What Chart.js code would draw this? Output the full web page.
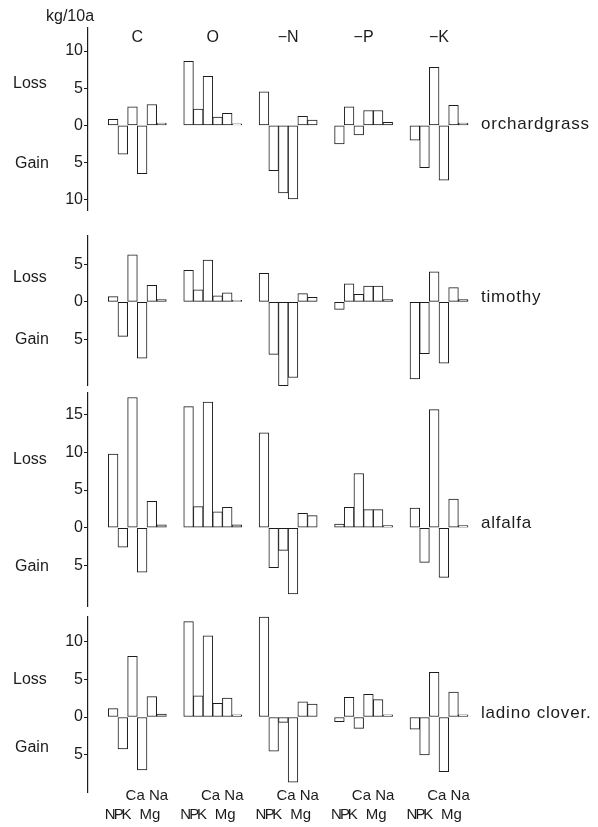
<!DOCTYPE html>
<html>
<head>
<meta charset="utf-8">
<script src="https://cdn.jsdelivr.net/npm/chart.js@4.4.1/dist/chart.umd.min.js"></script>
<style>
  html, body { margin: 0; padding: 0; background: #fff; }
  #wrap { position: relative; width: 598px; height: 827px; }
  #wrap canvas { position: absolute; left: 0; top: 0; }
</style>
</head>
<body>
<div id="wrap">
  <canvas id="c0" width="598" height="827"></canvas>
  <canvas id="c1" width="598" height="827"></canvas>
  <canvas id="c2" width="598" height="827"></canvas>
  <canvas id="c3" width="598" height="827"></canvas>
</div>
<script>
// kg/10a, loss is positive, gain negative; one row per treatment, columns follow `elements`
const elements = ['N', 'P', 'K', 'Ca', 'Mg', 'Na'];
const treatments = ['C', 'O', '\u2212N', '\u2212P', '\u2212K'];

const orchardgrass = [
  [0.8, -3.9, 2.5, -6.5, 2.8, 0.3],
  [8.6, 2.2, 6.6, 1.1, 1.6, 0.2],
  [4.5, -6.1, -9.1, -9.9, 1.2, 0.7],
  [-2.5, 2.5, -1.3, 2.0, 2.0, 0.4],
  [-2.0, -5.7, 7.8, -7.4, 2.7, 0.3]
];
const timothy = [
  [0.7, -4.6, 6.3, -7.5, 2.2, 0.3],
  [4.2, 1.6, 5.6, 0.8, 1.2, 0.2],
  [3.8, -7.0, -11.2, -10.1, 1.1, 0.6],
  [-1.0, 2.4, 1.0, 2.1, 2.1, 0.3],
  [-10.3, -6.9, 4.0, -8.2, 1.9, 0.3]
];
const alfalfa = [
  [9.8, -2.6, 17.3, -5.9, 3.5, 0.4],
  [16.1, 2.8, 16.7, 2.1, 2.7, 0.4],
  [12.6, -5.3, -3.0, -8.8, 1.9, 1.6],
  [0.5, 2.7, 7.2, 2.4, 2.4, 0.3],
  [2.6, -4.6, 15.7, -6.6, 3.8, 0.3]
];
const ladinoClover = [
  [1.1, -4.2, 8.0, -7.0, 2.7, 0.4],
  [12.6, 2.8, 10.7, 1.8, 2.5, 0.3],
  [13.2, -4.5, -0.7, -8.6, 2.0, 1.7],
  [-0.6, 2.6, -1.5, 3.0, 2.3, 0.3],
  [-1.6, -5.0, 5.9, -7.2, 3.3, 0.3]
];

const orchardTicks = [10, 5, 0, -5, -10];
const timothyTicks = [5, 0, -5];
const alfalfaTicks = [15, 10, 5, 0, -5];
const ladinoTicks = [10, 5, 0, -5];

// layout of the four stacked panels (pixels of the y axis line, value range, text spots)
const panels = [
  { name: 'orchardgrass', values: orchardgrass, ticks: orchardTicks, top: 28, bottom: 210, min: -11.4, max: 13.1, lossAt: 5.6, gainAt: -5.1, nameDy: 4 },
  { name: 'timothy', values: timothy, ticks: timothyTicks, top: 236, bottom: 385, min: -11.1, max: 8.8, lossAt: 3.3, gainAt: -5.0, nameDy: 0 },
  { name: 'alfalfa', values: alfalfa, ticks: alfalfaTicks, top: 393, bottom: 606, min: -10.4, max: 17.9, lossAt: 9.0, gainAt: -5.2, nameDy: 0 },
  { name: 'ladino clover.', values: ladinoClover, ticks: ladinoTicks, top: 617, bottom: 792, min: -9.9, max: 13.2, lossAt: 4.9, gainAt: -4.0, nameDy: 1 }
];

const GROUP_PITCH = 7.8;
const AXIS_X = 88;
const AREA_RIGHT = 469;
const INK = '#1c1c1c';
const FONT = '"Liberation Sans", Arial, sans-serif';
const NARROW = '"Liberation Sans Narrow", "Liberation Sans", sans-serif';
// element labels under the bottom panel sit a little left of their bars, Ca and Na on the upper line
const labelDx = [-3, -4, -6, -7, -2, -3];
const upperLine = ['Ca', 'Na'];

const panelText = {
  id: 'panelText',
  afterDraw(chart, args, opts) {
    const p = panels[opts.index];
    const { ctx, chartArea, scales } = chart;
    const zero = scales.y.getPixelForValue(0);
    ctx.save();
    ctx.fillStyle = INK;
    ctx.font = '16px ' + FONT;
    ctx.textAlign = 'left';
    ctx.textBaseline = 'middle';
    ctx.fillText('Loss', 13, scales.y.getPixelForValue(p.lossAt));
    ctx.fillText('Gain', 15, scales.y.getPixelForValue(p.gainAt));
    ctx.save();
    ctx.font = '17px ' + FONT;
    ctx.textBaseline = 'alphabetic';
    if ('letterSpacing' in ctx) ctx.letterSpacing = '0.8px';
    ctx.fillText(p.name, chartArea.right + 12, zero + p.nameDy);
    ctx.restore();
    if (opts.index === 0) {
      ctx.font = '16px ' + FONT;
      ctx.textBaseline = 'middle';
      ctx.fillText('kg/10a', 46, 17);
      ctx.textAlign = 'center';
      treatments.forEach((t, g) => {
        ctx.fillText(t, scales.x.getPixelForValue(g * GROUP_PITCH + 2.5), 38);
      });
    }
    if (opts.index === panels.length - 1) {
      ctx.font = '15px ' + NARROW;
      ctx.textAlign = 'center';
      ctx.textBaseline = 'middle';
      treatments.forEach((t, g) => {
        elements.forEach((e, i) => {
          const x = scales.x.getPixelForValue(g * GROUP_PITCH + i) + labelDx[i];
          ctx.fillText(e, x, upperLine.includes(e) ? chartArea.bottom + 4 : chartArea.bottom + 23);
        });
      });
    }
    ctx.restore();
  }
};

panels.forEach((p, k) => {
  const points = p.values.flatMap((row, g) => row.map((v, i) => ({ x: g * GROUP_PITCH + i, y: v })));
  new Chart(document.getElementById('c' + k), {
    type: 'bar',
    data: {
      datasets: [{
        data: points,
        backgroundColor: '#fff',
        borderColor: INK,
        borderWidth: 1,
        borderSkipped: false,
        barPercentage: 1,
        categoryPercentage: 1,
        clip: false
      }]
    },
    options: {
      responsive: false,
      animation: false,
      devicePixelRatio: 1,
      layout: { padding: { left: 0, right: 598 - AREA_RIGHT, top: p.top, bottom: 827 - p.bottom } },
      plugins: {
        legend: { display: false },
        tooltip: { enabled: false },
        panelText: { index: k }
      },
      scales: {
        x: {
          type: 'linear',
          min: -2.6,
          max: 36.8,
          offset: false,
          display: false,
          afterBuildTicks: s => { s.ticks = points.map(pt => ({ value: pt.x })); },
          ticks: { autoSkip: false }
        },
        y: {
          min: p.min,
          max: p.max,
          afterBuildTicks: s => { s.ticks = p.ticks.map(v => ({ value: v })); },
          afterFit: s => { s.width = AXIS_X; },
          grid: { drawOnChartArea: false, drawTicks: true, tickLength: 4, color: INK, lineWidth: 1 },
          border: { display: true, color: INK, width: 1.2 },
          ticks: {
            padding: 1,
            color: INK,
            font: { family: FONT, size: 16 },
            callback: v => Math.abs(v)
          }
        }
      }
    },
    plugins: [panelText]
  });
});
</script>
</body>
</html>
